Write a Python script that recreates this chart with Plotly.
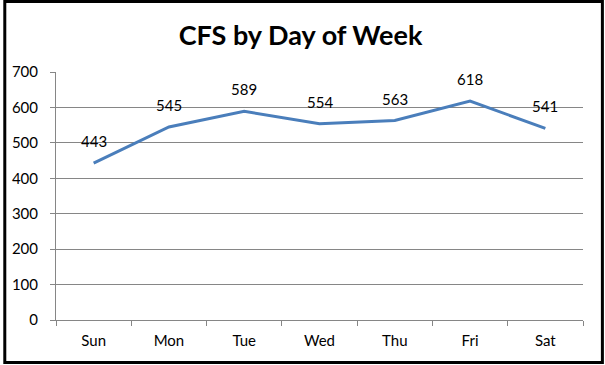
import plotly.graph_objects as go

days = ["Sun", "Mon", "Tue", "Wed", "Thu", "Fri", "Sat"]
cfs = [443, 545, 589, 554, 563, 618, 541]
y_ticks = [0, 100, 200, 300, 400, 500, 600, 700]

W, H = 605, 365
L, R, T, B = 53, 22, 72, 45
pw, ph = W - L - R, H - T - B

fig = go.Figure()
fig.add_trace(go.Scatter(
    x=days, y=cfs, mode="lines",
    line=dict(color="#4A7EBB", width=3),
    hoverinfo="skip", showlegend=False,
))

for d, v in zip(days, cfs):
    fig.add_annotation(x=d, y=v, text=str(v), showarrow=False, yshift=22,
                       font=dict(family="Lato", size=15, color="black"))

fig.add_shape(type="rect", xref="paper", yref="paper",
              x0=(1.5 - L) / pw, x1=(W - 2.5 - L) / pw,
              y0=-(B - 2.5) / ph, y1=1 + (T - 1.5) / ph,
              line=dict(color="black", width=3), layer="above")

fig.update_layout(
    width=W, height=H,
    margin=dict(l=L, r=R, t=T, b=B),
    paper_bgcolor="white", plot_bgcolor="white",
    title=dict(text="<b>CFS by Day of Week</b>", x=300.5 / W, xref="container", xanchor="center",
               y=1 - 36 / H, yref="container", yanchor="middle",
               font=dict(family="Lato", size=27, color="black")),
    xaxis=dict(
        type="category", range=[-0.5, 6.5],
        showgrid=False, showline=True, linecolor="#868686", linewidth=1,
        ticks="outside", ticklen=5, tickcolor="#868686", tickson="boundaries",
        tickfont=dict(family="Lato", size=15, color="black"),
        ticklabelstandoff=7,
        fixedrange=True,
    ),
    yaxis=dict(
        range=[0, 700], tickvals=y_ticks, ticktext=[str(t) for t in y_ticks],
        showgrid=True, gridcolor="#868686", gridwidth=1,
        showline=True, linecolor="#868686", linewidth=1,
        ticks="outside", ticklen=5, tickcolor="#868686",
        tickfont=dict(family="Lato", size=15, color="black"),
        ticklabelstandoff=9,
        zeroline=False, fixedrange=True,
    ),
)

fig.write_html("out.html", config={"displayModeBar": False},
               post_script="document.body.style.margin='0';document.body.style.overflow='hidden';")
